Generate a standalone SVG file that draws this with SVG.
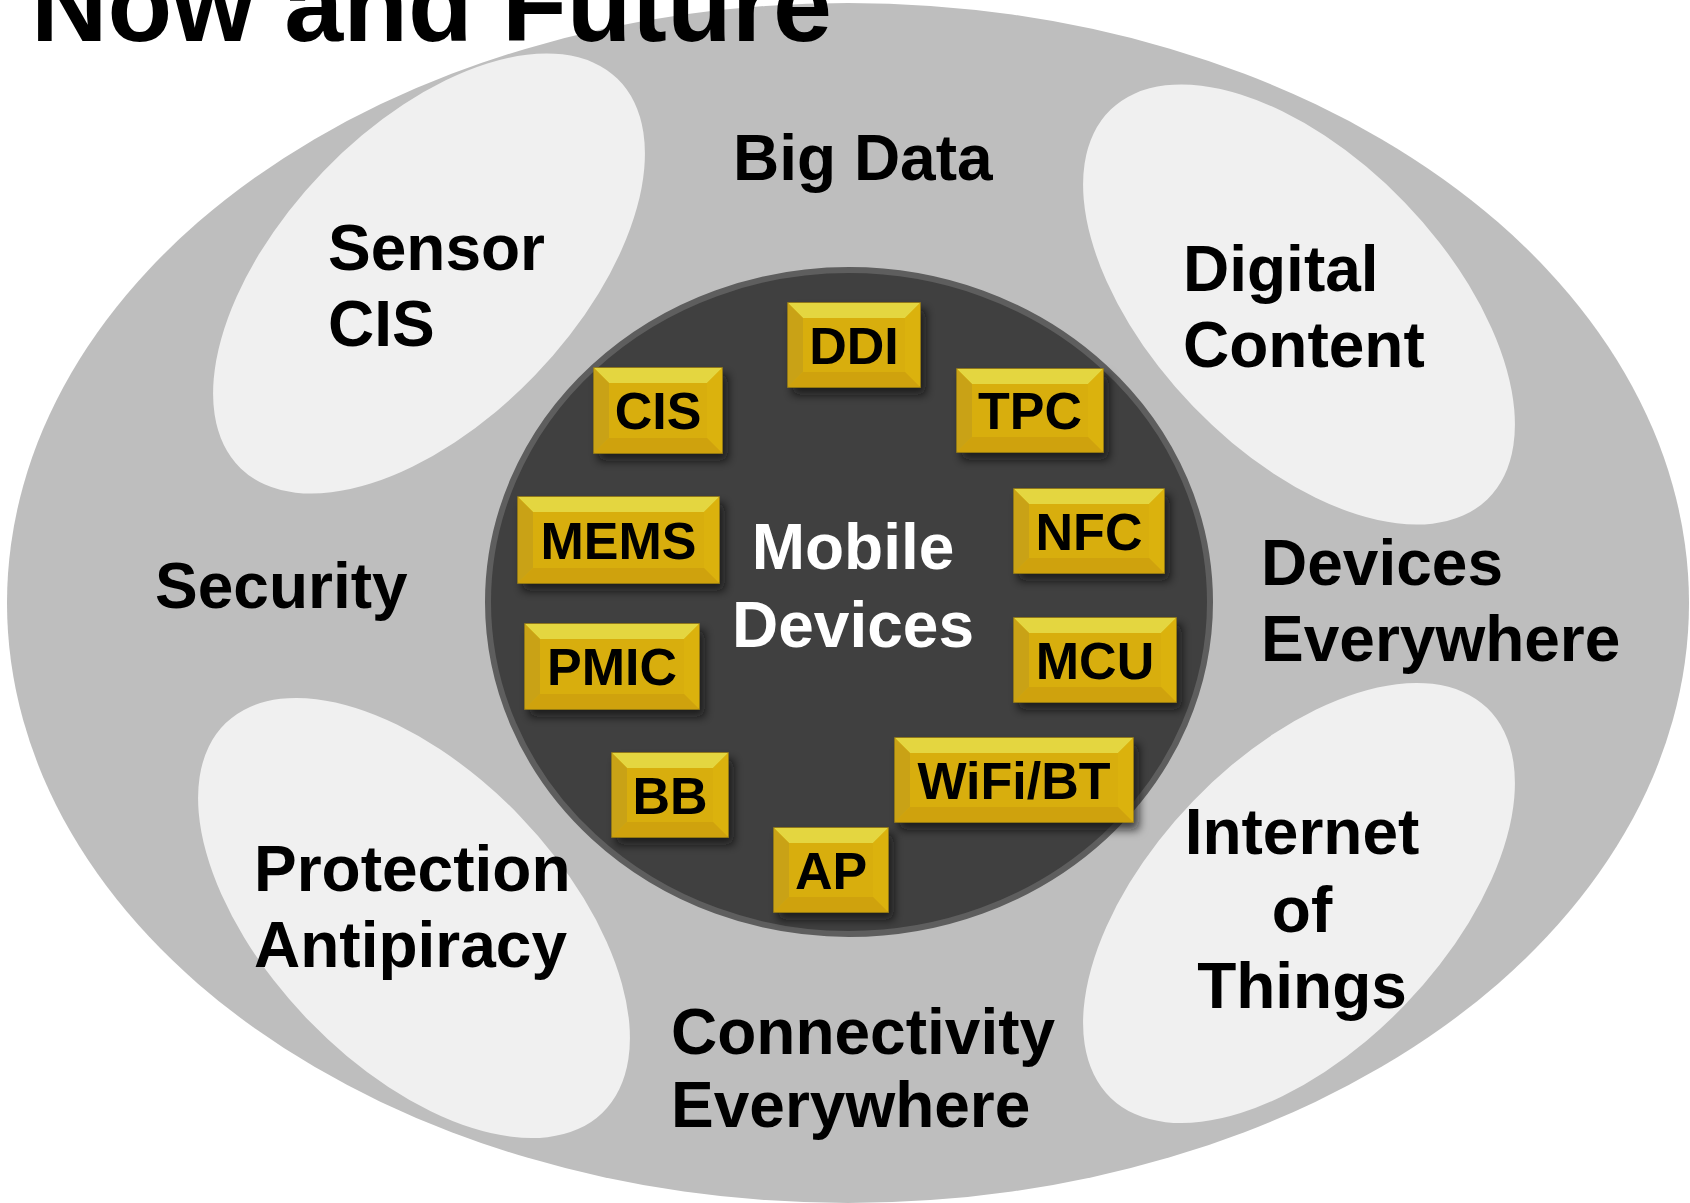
<svg xmlns="http://www.w3.org/2000/svg" width="1690" height="1203" viewBox="0 0 1690 1203">
  <style>
    .lbl { font-family: "Liberation Sans", Arial, Helvetica, sans-serif; font-weight: bold; font-size: 64px; fill: #000; }
    .mob { font-family: "Liberation Sans", Arial, Helvetica, sans-serif; font-weight: bold; font-size: 64px; fill: #fff; text-anchor: middle; }
    .bx { font-family: "Liberation Sans", Arial, Helvetica, sans-serif; font-weight: bold; font-size: 52px; fill: #000; text-anchor: middle; }
    .title { font-family: "Liberation Sans", Arial, Helvetica, sans-serif; font-weight: bold; font-size: 106px; fill: #000; }
    .petal { fill: #f0f0f0; }
    .face { fill: url(#gold); stroke: #a8890e; stroke-width: 1.5; }
    .bt { fill: #e4d63f; }
    .bl { fill: #c9a212; }
    .br { fill: #dbb211; }
    .bb { fill: #cfa20a; }
    .chip { filter: url(#shadow); }
  </style>
  <defs>
    <linearGradient id="gold" x1="0" y1="0" x2="0" y2="1">
      <stop offset="0" stop-color="#dcbc14"/>
      <stop offset="1" stop-color="#d4a80b"/>
    </linearGradient>
    <filter id="shadow" x="-20%" y="-20%" width="150%" height="160%">
      <feDropShadow dx="5" dy="7" stdDeviation="5" flood-color="#111" flood-opacity="0.75"/>
    </filter>
  </defs>

  <g id="outer">
    <ellipse cx="848" cy="603" rx="841" ry="600" fill="#bebebe"/>
  </g>

  <g id="petal-sensor">
    <ellipse class="petal" cx="429" cy="273.5" rx="271" ry="147" transform="rotate(-46 429 273.5)"/>
    <text class="lbl" x="328" y="270">Sensor</text>
    <text class="lbl" x="328" y="346">CIS</text>
  </g>
  <g id="petal-digital">
    <ellipse class="petal" cx="1299" cy="304.5" rx="271" ry="147" transform="rotate(46 1299 304.5)"/>
    <text class="lbl" x="1183" y="291">Digital</text>
    <text class="lbl" x="1183" y="367">Content</text>
  </g>
  <g id="petal-protection">
    <ellipse class="petal" cx="414" cy="918" rx="271" ry="147" transform="rotate(46 414 918)"/>
    <text class="lbl" x="254" y="891">Protection</text>
    <text class="lbl" x="254" y="967">Antipiracy</text>
  </g>
  <g id="petal-iot">
    <ellipse class="petal" cx="1299" cy="903" rx="271" ry="147" transform="rotate(-46 1299 903)"/>
    <text class="lbl" x="1302" y="854" text-anchor="middle">Internet</text>
    <text class="lbl" x="1302" y="932" text-anchor="middle">of</text>
    <text class="lbl" x="1302" y="1008" text-anchor="middle">Things</text>
  </g>

  <g id="label-bigdata"><text class="lbl" x="733" y="180">Big Data</text></g>
  <g id="label-security"><text class="lbl" x="155" y="608">Security</text></g>
  <g id="label-devices"><text class="lbl" x="1261" y="585">Devices</text><text class="lbl" x="1261" y="661">Everywhere</text></g>
  <g id="label-connectivity"><text class="lbl" x="671" y="1054">Connectivity</text><text class="lbl" x="671" y="1127">Everywhere</text></g>

  <g id="mobile-devices">
    <ellipse cx="849" cy="602" rx="361" ry="332" fill="#404040" stroke="#5e5e5e" stroke-width="6"/>
    <text class="mob" x="853" y="569">Mobile</text>
    <text class="mob" x="853" y="647">Devices</text>
  </g>

  <g id="chip-ddi" class="chip">
    <rect class="face" x="788" y="303" width="132" height="84"/>
    <polygon class="bt" points="788,303 920,303 905,318 803,318"/>
    <polygon class="bl" points="788,303 803,318 803,372 788,387"/>
    <polygon class="br" points="920,303 905,318 905,372 920,387"/>
    <polygon class="bb" points="788,387 920,387 905,372 803,372"/>
    <rect x="803" y="318" width="102" height="54" fill="#d8ae0e"/>
    <text class="bx" x="854" y="364">DDI</text>
  </g>
  <g id="chip-cis" class="chip">
    <rect class="face" x="594" y="368" width="128" height="85"/>
    <polygon class="bt" points="594,368 722,368 707,383 609,383"/>
    <polygon class="bl" points="594,368 609,383 609,438 594,453"/>
    <polygon class="br" points="722,368 707,383 707,438 722,453"/>
    <polygon class="bb" points="594,453 722,453 707,438 609,438"/>
    <rect x="609" y="383" width="98" height="55" fill="#d8ae0e"/>
    <text class="bx" x="658" y="429">CIS</text>
  </g>
  <g id="chip-tpc" class="chip">
    <rect class="face" x="957" y="369" width="146" height="83"/>
    <polygon class="bt" points="957,369 1103,369 1088,384 972,384"/>
    <polygon class="bl" points="957,369 972,384 972,437 957,452"/>
    <polygon class="br" points="1103,369 1088,384 1088,437 1103,452"/>
    <polygon class="bb" points="957,452 1103,452 1088,437 972,437"/>
    <rect x="972" y="384" width="116" height="53" fill="#d8ae0e"/>
    <text class="bx" x="1030" y="429">TPC</text>
  </g>
  <g id="chip-mems" class="chip">
    <rect class="face" x="518" y="497" width="201" height="86"/>
    <polygon class="bt" points="518,497 719,497 704,512 533,512"/>
    <polygon class="bl" points="518,497 533,512 533,568 518,583"/>
    <polygon class="br" points="719,497 704,512 704,568 719,583"/>
    <polygon class="bb" points="518,583 719,583 704,568 533,568"/>
    <rect x="533" y="512" width="171" height="56" fill="#d8ae0e"/>
    <text class="bx" x="618.5" y="559">MEMS</text>
  </g>
  <g id="chip-nfc" class="chip">
    <rect class="face" x="1014" y="489" width="150" height="84"/>
    <polygon class="bt" points="1014,489 1164,489 1149,504 1029,504"/>
    <polygon class="bl" points="1014,489 1029,504 1029,558 1014,573"/>
    <polygon class="br" points="1164,489 1149,504 1149,558 1164,573"/>
    <polygon class="bb" points="1014,573 1164,573 1149,558 1029,558"/>
    <rect x="1029" y="504" width="120" height="54" fill="#d8ae0e"/>
    <text class="bx" x="1089" y="550">NFC</text>
  </g>
  <g id="chip-pmic" class="chip">
    <rect class="face" x="525" y="624" width="174" height="85"/>
    <polygon class="bt" points="525,624 699,624 684,639 540,639"/>
    <polygon class="bl" points="525,624 540,639 540,694 525,709"/>
    <polygon class="br" points="699,624 684,639 684,694 699,709"/>
    <polygon class="bb" points="525,709 699,709 684,694 540,694"/>
    <rect x="540" y="639" width="144" height="55" fill="#d8ae0e"/>
    <text class="bx" x="612" y="685">PMIC</text>
  </g>
  <g id="chip-mcu" class="chip">
    <rect class="face" x="1014" y="618" width="162" height="84"/>
    <polygon class="bt" points="1014,618 1176,618 1161,633 1029,633"/>
    <polygon class="bl" points="1014,618 1029,633 1029,687 1014,702"/>
    <polygon class="br" points="1176,618 1161,633 1161,687 1176,702"/>
    <polygon class="bb" points="1014,702 1176,702 1161,687 1029,687"/>
    <rect x="1029" y="633" width="132" height="54" fill="#d8ae0e"/>
    <text class="bx" x="1095" y="679">MCU</text>
  </g>
  <g id="chip-bb" class="chip">
    <rect class="face" x="612" y="753" width="116" height="84"/>
    <polygon class="bt" points="612,753 728,753 713,768 627,768"/>
    <polygon class="bl" points="612,753 627,768 627,822 612,837"/>
    <polygon class="br" points="728,753 713,768 713,822 728,837"/>
    <polygon class="bb" points="612,837 728,837 713,822 627,822"/>
    <rect x="627" y="768" width="86" height="54" fill="#d8ae0e"/>
    <text class="bx" x="670" y="814">BB</text>
  </g>
  <g id="chip-wifi" class="chip">
    <rect class="face" x="895" y="738" width="238" height="84"/>
    <polygon class="bt" points="895,738 1133,738 1118,753 910,753"/>
    <polygon class="bl" points="895,738 910,753 910,807 895,822"/>
    <polygon class="br" points="1133,738 1118,753 1118,807 1133,822"/>
    <polygon class="bb" points="895,822 1133,822 1118,807 910,807"/>
    <rect x="910" y="753" width="208" height="54" fill="#d8ae0e"/>
    <text class="bx" x="1014" y="799">WiFi/BT</text>
  </g>
  <g id="chip-ap" class="chip">
    <rect class="face" x="774" y="828" width="114" height="84"/>
    <polygon class="bt" points="774,828 888,828 873,843 789,843"/>
    <polygon class="bl" points="774,828 789,843 789,897 774,912"/>
    <polygon class="br" points="888,828 873,843 873,897 888,912"/>
    <polygon class="bb" points="774,912 888,912 873,897 789,897"/>
    <rect x="789" y="843" width="84" height="54" fill="#d8ae0e"/>
    <text class="bx" x="831" y="889">AP</text>
  </g>

  <g id="connectors"></g>

  <g id="title">
    <text class="title" x="31" y="41">Now and Future</text>
  </g>
</svg>
